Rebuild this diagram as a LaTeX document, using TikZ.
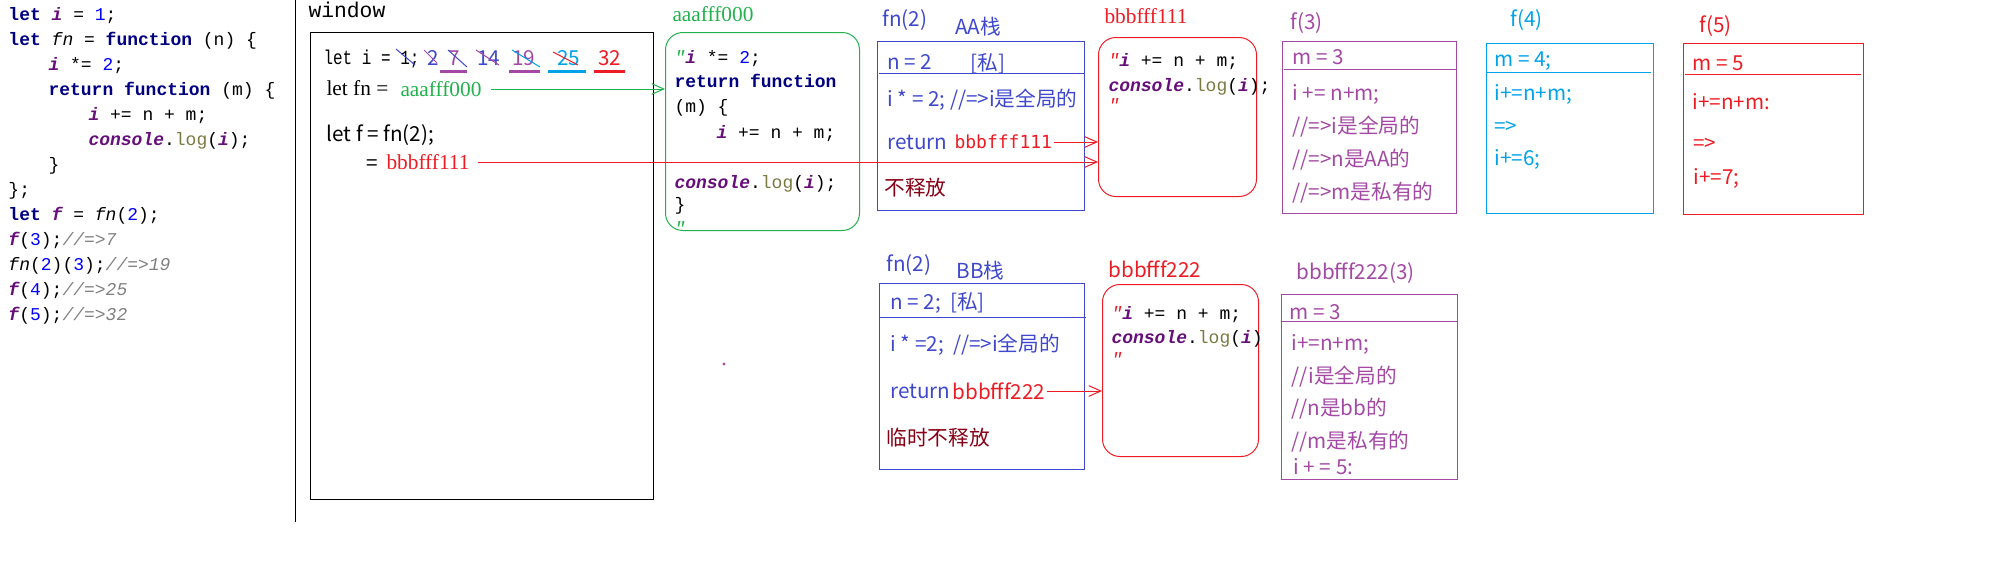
\documentclass[tikz,border=0pt]{standalone}
\usepackage{fontspec}
\usepackage{tikz}
\usetikzlibrary{arrows.meta}
\newfontfamily\codefont{Liberation Mono}
\newfontfamily\narrowfont[FakeStretch=0.8]{Liberation Mono}
\newfontfamily\hanfont{Noto Sans CJK SC}
\newfontfamily\romfont{Liberation Serif}
\newfontfamily\monofont{DejaVu Sans Mono}
\definecolor{indigoA}{RGB}{63,72,204}
\definecolor{purpleA}{RGB}{163,73,164}
\definecolor{redA}{RGB}{237,28,36}
\definecolor{cyanA}{RGB}{0,162,232}
\definecolor{greenA}{RGB}{34,177,76}
\definecolor{darkredA}{RGB}{136,0,21}
\definecolor{kwnavy}{RGB}{0,0,128}
\definecolor{varpurple}{RGB}{102,14,122}
\definecolor{numblue}{RGB}{0,0,255}
\definecolor{cmtgray}{RGB}{128,128,128}
\definecolor{logolive}{RGB}{122,122,67}
\newcommand{\jskw}[1]{\textcolor{kwnavy}{\bfseries #1}}
\newcommand{\jsvar}[1]{\textcolor{varpurple}{\bfseries\itshape #1}}
\newcommand{\jsfn}[1]{\textit{#1}}
\newcommand{\jsnum}[1]{\textcolor{numblue}{#1}}
\newcommand{\jscmt}[1]{\textcolor{cmtgray}{\itshape #1}}
\newcommand{\jslog}{\textcolor{logolive}{log}}
\newcommand{\jsquote}[1]{\textcolor{#1}{\textit{"}}}
\tikzset{every picture/.style={line width=0.75pt}}
\tikzset{
  codeline/.style={anchor=base west, inner sep=0.75pt, font=\fontsize{13.5}{16}\selectfont\codefont},
  memo/.style={anchor=west, inner sep=0.75pt, font=\fontsize{15.5}{18}\selectfont\hanfont},
  addr/.style={anchor=west, inner sep=0.75pt, font=\fontsize{16}{19}\selectfont\romfont},
  stackbox/.style={draw, inner sep=0pt, anchor=north west},
  heapbox/.style={draw, inner sep=0pt, anchor=north west, rounded corners=13pt},
  ptrline/.style={-{Straight Barb[length=9pt,width=8pt]}},
  uline/.style={line width=2.25pt},
}

\begin{document}
\begin{tikzpicture}[x=0.75pt,y=0.75pt,yscale=-1,xscale=1]
\useasboundingbox (0,0) rectangle (2012,578);

% Text Node
\draw (7,20) node [codeline] (src1) {\jskw{let} \jsvar{i} = \jsnum{1};};
% Text Node
\draw (7,45) node [codeline] (src2) {\jskw{let} \jsfn{fn} = \jskw{function} (n) \{};
% Text Node
\draw (47,70) node [codeline] (src3) {\jsvar{i} *= \jsnum{2};};
% Text Node
\draw (47,95) node [codeline] (src4) {\jskw{return} \jskw{function} (m) \{};
% Text Node
\draw (87,120) node [codeline] (src5) {\jsvar{i} += n + m;};
% Text Node
\draw (87,145) node [codeline] (src6) {\jsvar{console}.\jslog(\jsvar{i});};
% Text Node
\draw (47,170) node [codeline] (src7) {\}};
% Text Node
\draw (7,195) node [codeline] (src8) {\};};
% Text Node
\draw (7,220) node [codeline] (src9) {\jskw{let} \jsvar{f} = \jsfn{fn}(\jsnum{2});};
% Text Node
\draw (7,245) node [codeline] (src10) {\jsvar{f}(\jsnum{3});\jscmt{//=>7}};
% Text Node
\draw (7,270) node [codeline] (src11) {\jsfn{fn}(\jsnum{2})(\jsnum{3});\jscmt{//=>19}};
% Text Node
\draw (7,295) node [codeline] (src12) {\jsvar{f}(\jsnum{4});\jscmt{//=>25}};
% Text Node
\draw (7,320) node [codeline] (src13) {\jsvar{f}(\jsnum{5});\jscmt{//=>32}};

%Straight Lines
\draw (295,0) -- (295,522);

%Shape: Rectangle (window)
\node [stackbox, minimum width=257.25pt, minimum height=350.25pt] (winbox) at (310,32) {};
% Text Node
\draw (307,17) node [codeline, font=\fontsize{16}{19}\selectfont\codefont] (winlbl) {window};
% Text Node
\draw (322,64) node [codeline, font=\fontsize{15}{18}\selectfont\narrowfont] (wi) {let i = 1;};
% Text Node
\draw (426,65) node [memo, anchor=base west, indigoA] (wv2) {2};
\draw (447,65) node [memo, anchor=base west, purpleA] (wv7) {7};
\draw (476,65) node [memo, anchor=base west, indigoA] (wv14) {14};
\draw (511,65) node [memo, anchor=base west, purpleA] (wv19) {19};
\draw (556,65) node [memo, anchor=base west, cyanA] (wv25) {25};
\draw (597,65) node [memo, anchor=base west, redA] (wv32) {32};
%Straight Lines (struck values)
\draw [indigoA] (396,49) -- (415,65);
\draw [purpleA] (424,50) -- (437,63);
\draw [indigoA] (448,50) -- (467,67);
\draw [purpleA] (476,50) -- (499,65);
\draw [cyanA] (512,50) -- (540,67);
\draw [redA] (553,52) -- (578,65);
%Straight Lines (underlines)
\draw [uline, purpleA] (440,71) -- (467,71);
\draw [uline, purpleA] (509,71) -- (540,71);
\draw [uline, cyanA] (548,71) -- (586,71);
\draw [uline, redA] (594,71) -- (625,71);
% Text Node
\draw (325,88) node [addr] (wfn) {let fn =};
% Text Node
\draw (399,89) node [addr, greenA] (waddr1) {aaafff000};
% Text Node
\draw (325,135) node [memo] (wcall) {let f = fn(2);};
% Text Node
\draw (365,165) node [memo] (weq) {=};
% Text Node
\draw (385,162) node [addr, redA] (waddr2) {bbbfff111};

%Shape: Rounded Rect (aaafff000)
\node [heapbox, greenA, minimum width=145.5pt, minimum height=148.5pt] (aaabox) at (665,32) {};
% Text Node
\draw (671,14) node [addr, greenA] (lblg) {aaafff000};
% Text Node
\draw (673,63) node [codeline] (g1) {\jsquote{greenA}\jsvar{i} *= \jsnum{2};};
\draw (673,87) node [codeline] (g2) {\jskw{return} \jskw{function}};
\draw (673,112) node [codeline] (g3) {(m) \{};
\draw (715,138) node [codeline] (g4) {\jsvar{i} += n + m;};
\draw (673,188) node [codeline] (g5) {\jsvar{console}.\jslog(\jsvar{i});};
\draw (673,210) node [codeline] (g6) {\}};
\draw (673,234) node [codeline] (g7) {\jsquote{greenA}};

%Shape: Rectangle (AA)
\node [stackbox, indigoA, minimum width=155.25pt, minimum height=126.75pt] (aabox) at (877,41) {};
\draw [indigoA] (879,73) -- (1084,73);
% Text Node
\draw (881,20) node [memo, indigoA] (aafn) {fn(2)};
\draw (954,27) node [memo, indigoA] (aaname) {AA栈};
\draw (886,62) node [memo, indigoA] (aan) {n = 2};
\draw (969,64) node [memo, indigoA] (aapriv) {[私]};
\draw (886,100) node [memo, indigoA] (aai) {i * = 2; //=>i是全局的};
\draw (886,142) node [memo, indigoA] (aaret) {return};
\draw (953,142) node [memo, redA, font=\fontsize{13.5}{16}\selectfont\monofont] (aaaddr) {bbbfff111};
\draw (883,188) node [memo, darkredA] (aakeep) {不释放};

%Shape: Rounded Rect (bbbfff111)
\node [heapbox, redA, minimum width=118.5pt, minimum height=119.25pt] (b1box) at (1098,37) {};
% Text Node
\draw (1103,16) node [addr, redA] (lblr1) {bbbfff111};
\draw (1107,66) node [codeline] (r1a) {\jsquote{redA}\jsvar{i} += n + m;};
\draw (1107,91) node [codeline] (r1b) {\jsvar{console}.\jslog(\jsvar{i});};
\draw (1107,111) node [codeline] (r1c) {\jsquote{redA}};

%Shape: Rectangle (f(3))
\node [stackbox, purpleA, minimum width=130.5pt, minimum height=129pt] (f3box) at (1282,41) {};
\draw [purpleA] (1284,69) -- (1456,69);
% Text Node
\draw (1289,23) node [memo, purpleA] (f3lbl) {f(3)};
\draw (1291,57) node [memo, purpleA] (f3m) {m = 3};
\draw (1291,94) node [memo, purpleA] (f3a) {i += n+m;};
\draw (1291,127) node [memo, purpleA] (f3b) {//=>i是全局的};
\draw (1291,160) node [memo, purpleA] (f3c) {//=>n是AA的};
\draw (1291,193) node [memo, purpleA] (f3d) {//=>m是私有的};

%Shape: Rectangle (f(4))
\node [stackbox, cyanA, minimum width=125.25pt, minimum height=127.5pt] (f4box) at (1486,43) {};
\draw [cyanA] (1487,72) -- (1651,72);
% Text Node
\draw (1509,20) node [memo, cyanA] (f4lbl) {f(4)};
\draw (1493,61) node [memo, cyanA] (f4m) {m = 4;};
\draw (1493,94) node [memo, cyanA] (f4a) {i+=n+m;};
\draw (1493,127) node [memo, cyanA] (f4b) {=>};
\draw (1493,159) node [memo, cyanA] (f4c) {i+=6;};

%Shape: Rectangle (f(5))
\node [stackbox, redA, minimum width=135pt, minimum height=128.25pt] (f5box) at (1683,43) {};
\draw [redA] (1685,74) -- (1861,74);
% Text Node
\draw (1698,26) node [memo, redA] (f5lbl) {f(5)};
\draw (1691,63) node [memo, redA] (f5m) {m = 5};
\draw (1691,102) node [memo, redA] (f5a) {i+=n+m:};
\draw (1692,144) node [memo, redA] (f5b) {=>};
\draw (1692,178) node [memo, redA] (f5c) {i+=7;};

%Shape: Rectangle (BB)
\node [stackbox, indigoA, minimum width=153.75pt, minimum height=139.5pt] (bbbox) at (879,283) {};
\draw [indigoA] (879,317) -- (1086,317);
% Text Node
\draw (885,265) node [memo, indigoA] (bbfn) {fn(2)};
\draw (955,271) node [memo, indigoA] (bbname) {BB栈};
\draw (889,303) node [memo, indigoA] (bbn) {n = 2;\ \ [私]};
\draw (889,345) node [memo, indigoA] (bbi) {i * =2;\ \ //=>i全局的};
\draw (889,391) node [memo, indigoA] (bbret) {return};
\draw (951,391) node [memo, redA] (bbaddr) {bbbfff222};
\draw (885,438) node [memo, darkredA] (bbkeep) {临时不释放};

%Shape: Rounded Rect (bbbfff222)
\node [heapbox, redA, minimum width=117pt, minimum height=129pt] (b2box) at (1102,284) {};
% Text Node
\draw (1107,269) node [memo, redA] (lblr2) {bbbfff222};
\draw (1110,319) node [codeline] (r2a) {\jsquote{redA}\jsvar{i} += n + m;};
\draw (1110,343) node [codeline] (r2b) {\jsvar{console}.\jslog(\jsvar{i})};
\draw (1110,365) node [codeline] (r2c) {\jsquote{redA}};

%Shape: Rectangle (bbbfff222(3))
\node [stackbox, purpleA, minimum width=132pt, minimum height=138.75pt] (p2box) at (1281,294) {};
\draw [purpleA] (1281,321) -- (1457,321);
% Text Node
\draw (1295,273) node [memo, purpleA] (p2lbl) {bbbfff222(3)};
\draw (1288,312) node [memo, purpleA] (p2m) {m = 3};
\draw (1290,344) node [memo, purpleA] (p2a) {i+=n+m;};
\draw (1290,377) node [memo, purpleA] (p2b) {//i是全局的};
\draw (1290,409) node [memo, purpleA] (p2c) {//n是bb的};
\draw (1290,442) node [memo, purpleA] (p2d) {//m是私有的};
\draw (1292,467) node [memo, purpleA] (p2e) {i + = 5:};

%Shape: Circle (stray dot)
\fill [purpleA] (724,364) circle (1.6);

%Straight Lines (pointers)
\draw [ptrline, greenA, shorten <=6pt] (waddr1.east) -- (waddr1.east -| aaabox.west);
\draw [ptrline, redA, shorten <=5pt] (waddr2.east) -- (waddr2.east -| b1box.west);
\draw [ptrline, redA] (aaaddr.east) -- (aaaddr.east -| b1box.west);
\draw [ptrline, redA] (bbaddr.east) -- (bbaddr.east -| b2box.west);

\end{tikzpicture}
\end{document}
